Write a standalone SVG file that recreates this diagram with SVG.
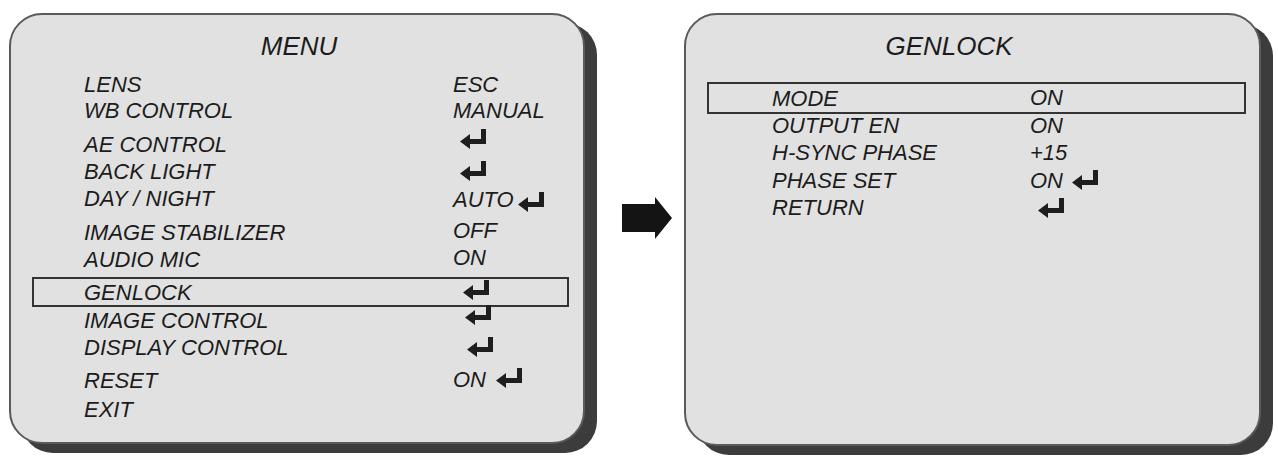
<svg xmlns="http://www.w3.org/2000/svg" xmlns:xlink="http://www.w3.org/1999/xlink" width="1278" height="462" viewBox="0 0 1278 462">
  <style>
    .shadow { fill: #3c3c3c; }
    .face { fill: #e1e1e1; stroke: #5a5a5a; stroke-width: 2; }
    .t { font-family: "Liberation Sans", Arial, sans-serif; font-style: italic; font-size: 22px; fill: #1c1c1c; }
    .title { font-family: "Liberation Sans", Arial, sans-serif; font-style: italic; font-size: 26px; fill: #1c1c1c; text-anchor: middle; }
    .sel { fill: none; stroke: #333; stroke-width: 2; }
    .enter { fill: #1e1e1e; }
  </style>
  <defs>
    <path id="enter" d="M21 0 H26 V15 H10 V20 L0 12.5 L10 5 V10 H21 Z"/>
  </defs>
  <rect width="1278" height="462" fill="#ffffff"/>

  <g id="menu-panel">
    <rect class="shadow" x="21" y="23" width="576" height="430" rx="32"/>
    <rect class="face" x="10" y="14" width="574" height="429" rx="32"/>
    <text class="title" x="299" y="55">MENU</text>
    <rect class="sel" x="33" y="278" width="535" height="28"/>
    <text class="t" x="84" y="92">LENS</text>
    <text class="t" x="84" y="118">WB CONTROL</text>
    <text class="t" x="84" y="152">AE CONTROL</text>
    <text class="t" x="84" y="179">BACK LIGHT</text>
    <text class="t" x="84" y="206">DAY / NIGHT</text>
    <text class="t" x="84" y="240">IMAGE STABILIZER</text>
    <text class="t" x="84" y="267">AUDIO MIC</text>
    <text class="t" x="84" y="300">GENLOCK</text>
    <text class="t" x="84" y="328">IMAGE CONTROL</text>
    <text class="t" x="84" y="355">DISPLAY CONTROL</text>
    <text class="t" x="84" y="388">RESET</text>
    <text class="t" x="84" y="417">EXIT</text>
    <text class="t" x="453" y="92">ESC</text>
    <text class="t" x="453" y="118">MANUAL</text>
    <use xlink:href="#enter" class="enter" x="460" y="129"/>
    <use xlink:href="#enter" class="enter" x="460" y="161"/>
    <text class="t" x="453" y="207">AUTO</text>
    <use xlink:href="#enter" class="enter" x="518" y="192"/>
    <text class="t" x="453" y="238">OFF</text>
    <text class="t" x="453" y="265">ON</text>
    <use xlink:href="#enter" class="enter" x="463" y="280"/>
    <use xlink:href="#enter" class="enter" x="465" y="305"/>
    <use xlink:href="#enter" class="enter" x="467" y="337"/>
    <text class="t" x="453" y="387">ON</text>
    <use xlink:href="#enter" class="enter" x="496" y="368"/>
  </g>

  <g id="genlock-panel">
    <rect class="shadow" x="697" y="24" width="576" height="431" rx="32"/>
    <rect class="face" x="685" y="14" width="575" height="431" rx="32"/>
    <text class="title" x="949" y="55">GENLOCK</text>
    <rect class="sel" x="708" y="83" width="537" height="30"/>
    <text class="t" x="772" y="106">MODE</text>
    <text class="t" x="772" y="133">OUTPUT EN</text>
    <text class="t" x="772" y="160">H-SYNC PHASE</text>
    <text class="t" x="772" y="188">PHASE SET</text>
    <text class="t" x="772" y="215">RETURN</text>
    <text class="t" x="1030" y="105">ON</text>
    <text class="t" x="1030" y="133">ON</text>
    <text class="t" x="1030" y="160">+15</text>
    <text class="t" x="1030" y="188">ON</text>
    <use xlink:href="#enter" class="enter" x="1072" y="170"/>
    <use xlink:href="#enter" class="enter" x="1038" y="198"/>
  </g>

  <g id="connectors">
    <polygon fill="#141414" points="622,204 655,204 655,197 672,218 655,239 655,232 622,232"/>
  </g>
</svg>
